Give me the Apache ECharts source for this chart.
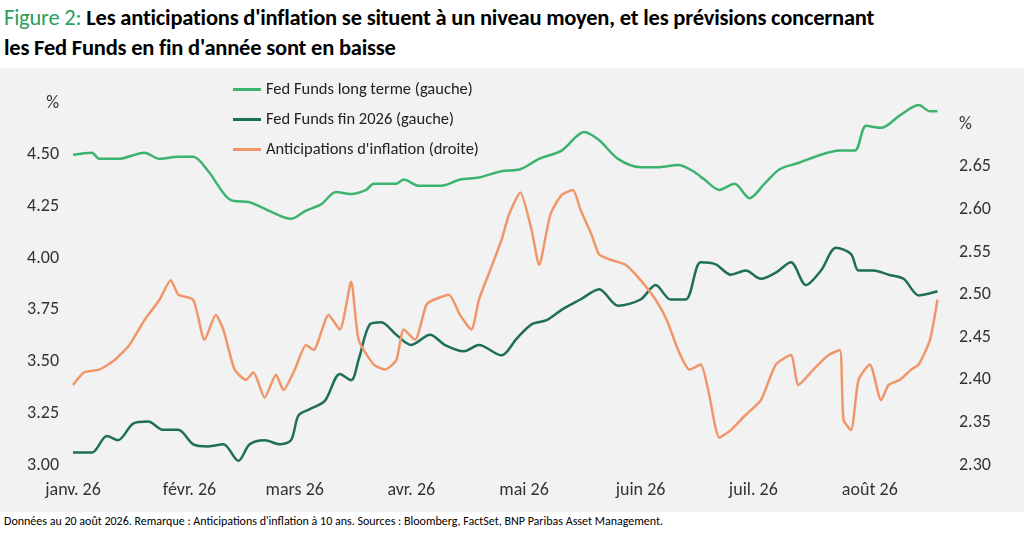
<!DOCTYPE html>
<html><head><meta charset="utf-8">
<script src="https://cdn.jsdelivr.net/npm/echarts@6/dist/echarts.min.js"></script>
<style>
body{margin:0;width:1024px;height:551px;background:#fff;font-family:Calibri,"Liberation Sans",Arial,sans-serif;overflow:hidden}
#t{position:absolute;left:4px;top:3px;font-size:22.5px;line-height:30px;color:#000;font-weight:bold;letter-spacing:-0.2px}
#t span{color:#2e9e5b;font-weight:normal}
#c{position:absolute;left:0;top:68px;width:1024px;height:444px;background:#f2f2f2}
#f{position:absolute;left:4px;top:514px;font-size:12px;color:#000}
</style></head><body>
<div id="t"><span>Figure 2:</span> Les anticipations d'inflation se situent à un niveau moyen, et les prévisions concernant<br>les Fed Funds en fin d'année sont en baisse</div>
<div id="c"></div>
<div id="f">Données au 20 août 2026. Remarque : Anticipations d'inflation à 10 ans. Sources : Bloomberg, FactSet, BNP Paribas Asset Management.</div>
<script>
var months=['janv.','févr.','mars','avr.','mai','juin','juil.','août','sept.','oct.','nov.','déc.'];
var ltDays=[0,5,7,12,19,23,28,32,36,42,47,52,58,62,66,70,74,78,80,86,88,92,98,103,108,114,119,124,130,136,140,145,151,156,161,165,168,172,176,180,184,188,193,199,204,208,211,215,220,225,228,230];
var ltVals=[4.50,4.51,4.48,4.48,4.51,4.48,4.49,4.49,4.42,4.28,4.27,4.23,4.19,4.23,4.26,4.32,4.31,4.33,4.36,4.36,4.38,4.35,4.35,4.38,4.39,4.42,4.43,4.48,4.52,4.61,4.57,4.48,4.44,4.44,4.45,4.42,4.38,4.33,4.36,4.29,4.36,4.43,4.46,4.50,4.52,4.52,4.64,4.63,4.69,4.74,4.71,4.71];
var ffDays=[0,5,9,12,16,20,24,28,32,36,40,44,47,51,55,58,60,63,67,71,74,76,79,82,86,90,95,99,104,108,114,118,122,126,130,135,140,145,151,155,159,163,167,171,175,179,183,187,191,195,199,203,207,209,213,217,221,225,228,230];
var ffVals=[3.06,3.06,3.14,3.12,3.20,3.21,3.17,3.17,3.10,3.09,3.10,3.02,3.10,3.12,3.10,3.12,3.24,3.27,3.31,3.44,3.41,3.51,3.68,3.69,3.63,3.58,3.63,3.58,3.55,3.58,3.53,3.61,3.68,3.70,3.75,3.80,3.85,3.77,3.80,3.87,3.80,3.80,3.98,3.97,3.92,3.94,3.90,3.93,3.98,3.87,3.94,4.05,4.02,3.94,3.94,3.92,3.90,3.82,3.83,3.84];
var infDays=[0,3,7,11,15,19,23,26,28,32,35,38,40,43,46,48,51,54,56,59,62,64,68,71,74,76,80,83,86,88,91,94,96,100,103,106,108,111,114,116,119,122,124,127,130,133,135,138,140,143,147,151,155,158,161,164,167,169,172,175,179,183,187,191,193,197,201,204,205,207,209,212,215,217,220,223,225,228,230];
var infVals=[2.394,2.409,2.412,2.423,2.441,2.470,2.494,2.517,2.500,2.494,2.447,2.476,2.459,2.412,2.400,2.409,2.379,2.406,2.388,2.412,2.441,2.435,2.476,2.459,2.515,2.447,2.418,2.412,2.423,2.459,2.447,2.488,2.494,2.500,2.476,2.459,2.494,2.529,2.564,2.594,2.620,2.576,2.535,2.594,2.617,2.623,2.600,2.570,2.547,2.541,2.535,2.517,2.494,2.470,2.435,2.412,2.418,2.388,2.332,2.341,2.359,2.376,2.418,2.429,2.394,2.412,2.429,2.435,2.353,2.341,2.400,2.418,2.376,2.394,2.400,2.412,2.418,2.447,2.494];

var t0=Date.UTC(2026,0,1),DAY=86400000;
function pts(d,v){return d.map(function(x,i){return [t0+x*DAY,v[i]];});}
var lab={color:'#333',fontSize:18,fontFamily:'Calibri,"Liberation Sans",Arial,sans-serif'};
var chart=echarts.init(document.getElementById('c'));
chart.setOption({
  animation:false,
  grid:{left:73,right:79,top:35,bottom:47},
  legend:{orient:'vertical',left:228,top:8,itemGap:13,itemWidth:28,icon:'path://M0,0H28V3H0Z',itemHeight:3,
    textStyle:{fontSize:16.5,color:'#222',fontFamily:lab.fontFamily}},
  xAxis:{type:'time',min:t0,max:t0+232*DAY,splitLine:{show:false},axisLine:{show:false},axisTick:{show:false},
    axisLabel:Object.assign({margin:16,hideOverlap:false,formatter:function(v){var d=new Date(v);return d.getUTCDate()===1?months[d.getUTCMonth()]+' 26':'';}},lab)},
  yAxis:[
    {type:'value',min:3,max:4.75,interval:0.25,position:'left',splitLine:{show:false},axisLine:{show:false},
      axisLabel:Object.assign({margin:14,formatter:function(v){return v>=4.74?'%':v.toFixed(2);}},lab)},
    {type:'value',min:2.30,max:2.725,interval:0.05,position:'right',splitLine:{show:false},axisLine:{show:false},
      axisLabel:Object.assign({margin:14,formatter:function(v){return v>2.72?'':(v>2.69?'%':v.toFixed(2));}},lab)}
  ],
  series:[
    {name:'Fed Funds long terme (gauche)',type:'line',data:pts(ltDays,ltVals),showSymbol:false,smooth:0.3,lineStyle:{width:2.5,color:'#3cb371'},itemStyle:{color:'#3cb371'}},
    {name:'Fed Funds fin 2026 (gauche)',type:'line',data:pts(ffDays,ffVals),showSymbol:false,smooth:0.3,lineStyle:{width:2.5,color:'#1f6e5a'},itemStyle:{color:'#1f6e5a'}},
    {name:"Anticipations d'inflation (droite)",type:'line',yAxisIndex:1,data:pts(infDays,infVals),showSymbol:false,smooth:0.2,lineStyle:{width:2.5,color:'#f0966a'},itemStyle:{color:'#f0966a'}}
  ]
});
</script></body></html>
